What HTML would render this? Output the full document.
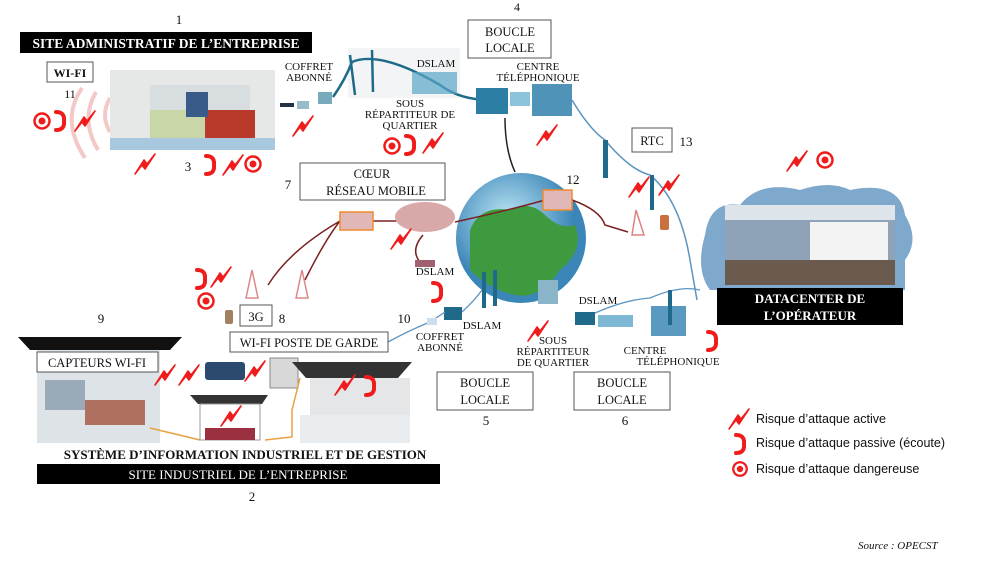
<!DOCTYPE html>
<html><head><meta charset="utf-8"><style>
body{margin:0;background:#fff}
svg{display:block}
.s{font-family:"Liberation Serif",serif}
</style></head><body>
<svg width="991" height="567" viewBox="0 0 991 567" xmlns="http://www.w3.org/2000/svg">
<defs>
<symbol id="b" viewBox="0 0 22 22"><path d="M21 1 L13 11 L10 7 L1 21 L8 12 L11 16 Z" fill="#f01c1c" stroke="#f01c1c" stroke-width="1.6" stroke-linejoin="round"/></symbol>
<symbol id="p" viewBox="0 0 12 22"><path d="M2 2 Q11 2 10 11 Q11 20 2 20" fill="none" stroke="#f01c1c" stroke-width="4" stroke-linecap="round"/></symbol>
<symbol id="t" viewBox="0 0 20 20"><circle cx="10" cy="10" r="7.5" fill="none" stroke="#f01c1c" stroke-width="2.5"/><circle cx="10" cy="10" r="3.5" fill="#f01c1c"/></symbol>
<radialGradient id="g" cx="40%" cy="35%"><stop offset="0" stop-color="#bfe6f5"/><stop offset="1" stop-color="#3b86b8"/></radialGradient>
</defs>
<g class="s" fill="#111">
<text x="179" y="24" font-size="13" text-anchor="middle">1</text>
<rect x="20" y="32" width="292" height="21" fill="#000"/>
<text x="166" y="48" font-size="13.5" font-weight="bold" fill="#fff" text-anchor="middle">SITE ADMINISTRATIF DE L’ENTREPRISE</text>
<rect x="47" y="62" width="46" height="20" fill="#fff" stroke="#555"/>
<text x="70" y="77" font-size="12" font-weight="bold" text-anchor="middle">WI-FI</text>
<text x="70" y="98" font-size="12" text-anchor="middle">11</text>
<path d="M82 88 Q60 120 85 158 M96 92 Q80 120 98 150 M110 98 Q100 115 110 132" stroke="#f5c8c8" stroke-width="4" fill="none"/>
<rect x="110" y="70" width="165" height="80" fill="#e6e8e8"/>
<rect x="150" y="85" width="100" height="40" fill="#d8dde0"/>
<rect x="150" y="110" width="55" height="30" fill="#c9d6a8"/>
<rect x="205" y="110" width="50" height="30" fill="#b83a2a"/>
<rect x="110" y="138" width="165" height="12" fill="#a8c8e0"/>
<rect x="186" y="92" width="22" height="25" fill="#3a5a8a"/>
<use href="#t" x="32" y="111" width="20" height="20"/><use href="#p" x="54" y="110" width="12" height="22"/><use href="#b" x="74" y="110" width="22" height="22"/>
<use href="#b" x="134" y="153" width="22" height="22"/>
<text x="188" y="171" font-size="13" text-anchor="middle">3</text>
<use href="#p" x="204" y="154" width="12" height="22"/><use href="#b" x="222" y="154" width="22" height="22"/><use href="#t" x="243" y="154" width="20" height="20"/>
<text x="309" y="70" font-size="11" text-anchor="middle">COFFRET</text>
<text x="309" y="81" font-size="11" text-anchor="middle">ABONNÉ</text>
<rect x="280" y="103" width="14" height="4" fill="#234"/><rect x="297" y="101" width="12" height="8" fill="#9bc"/><rect x="318" y="92" width="14" height="12" fill="#7ab"/>
<use href="#b" x="292" y="115" width="22" height="22"/>
<rect x="348" y="48" width="112" height="50" fill="#f2f4f5"/>
<path d="M350 55 L355 95 M372 50 L373 92 M333 97 Q345 80 352 62 Q380 50 440 85 Q460 100 490 100" stroke="#1f6a8a" stroke-width="2.5" fill="none"/>
<text x="436" y="67" font-size="11" text-anchor="middle">DSLAM</text>
<rect x="412" y="72" width="45" height="22" fill="#5aa6c8" opacity=".7"/>
<text x="410" y="107" font-size="11" text-anchor="middle">SOUS</text>
<text x="410" y="118" font-size="11" text-anchor="middle">RÉPARTITEUR DE</text>
<text x="410" y="129" font-size="11" text-anchor="middle">QUARTIER</text>
<use href="#t" x="382" y="136" width="20" height="20"/><use href="#p" x="404" y="134" width="12" height="22"/><use href="#b" x="422" y="132" width="22" height="22"/>
<text x="517" y="11" font-size="12" text-anchor="middle">4</text>
<rect x="468" y="20" width="83" height="38" fill="#fff" stroke="#555"/>
<text x="510" y="36" font-size="12.5" text-anchor="middle">BOUCLE</text>
<text x="510" y="52" font-size="12.5" text-anchor="middle">LOCALE</text>
<text x="538" y="70" font-size="11" text-anchor="middle">CENTRE</text>
<text x="538" y="81" font-size="11" text-anchor="middle">TÉLÉPHONIQUE</text>
<rect x="476" y="88" width="32" height="26" fill="#2d7ea4"/>
<rect x="510" y="92" width="20" height="14" fill="#8cc4dc"/>
<rect x="532" y="84" width="40" height="32" fill="#4f93b8"/>
<path d="M505 118 Q505 150 515 172" stroke="#222" stroke-width="1.5" fill="none"/>
<use href="#b" x="536" y="124" width="22" height="22"/>
<path d="M572 100 Q590 130 605 140 Q630 170 650 175 Q680 200 690 260 L697 300" stroke="#5b95c0" stroke-width="1.5" fill="none"/>
<rect x="603" y="140" width="5" height="38" fill="#1f6a8a"/>
<rect x="632" y="128" width="40" height="24" fill="#fff" stroke="#555"/>
<text x="652" y="145" font-size="12.5" text-anchor="middle">RTC</text>
<text x="686" y="146" font-size="13" text-anchor="middle">13</text>
<rect x="650" y="175" width="4" height="35" fill="#1f6a8a"/>
<use href="#b" x="628" y="176" width="22" height="22"/><use href="#b" x="658" y="174" width="22" height="22"/>
<use href="#b" x="786" y="150" width="22" height="22"/><use href="#t" x="815" y="150" width="20" height="20"/>
<path d="M705 235 Q710 200 740 205 Q760 180 800 190 Q830 180 850 190 Q900 180 905 215 Q920 240 905 260 L905 290 L710 290 Q695 270 705 235Z" fill="#7fa9cc"/>
<rect x="725" y="205" width="170" height="80" fill="#8ea3b8"/>
<rect x="725" y="205" width="170" height="15" fill="#dde4ea"/>
<rect x="810" y="222" width="78" height="38" fill="#f3f3f3"/>
<rect x="725" y="260" width="170" height="25" fill="#6b5a4e"/>
<rect x="717" y="288" width="186" height="37" fill="#000"/>
<text x="810" y="303" font-size="13" font-weight="bold" fill="#fff" text-anchor="middle">DATACENTER DE</text>
<text x="810" y="320" font-size="13" font-weight="bold" fill="#fff" text-anchor="middle">L’OPÉRATEUR</text>
<circle cx="521" cy="238" r="65" fill="url(#g)"/>
<path d="M470 230 Q480 205 510 210 Q530 200 545 215 Q560 230 575 225 Q585 250 560 270 Q540 300 515 295 Q490 290 470 270 Z" fill="#3e9a3e"/>
<text x="288" y="189" font-size="13" text-anchor="middle">7</text>
<rect x="300" y="163" width="145" height="37" fill="#fff" stroke="#555"/>
<text x="372" y="178" font-size="12.5" text-anchor="middle">CŒUR</text>
<text x="376" y="195" font-size="12.5" text-anchor="middle">RÉSEAU MOBILE</text>
<path d="M268 285 Q290 250 340 221 M305 280 Q325 240 340 221 M373 221 L400 221 M455 222 Q510 210 545 200 M572 200 Q600 210 605 225 L628 232 M423 235 Q410 250 420 262" stroke="#7a2020" stroke-width="1.5" fill="none"/>
<rect x="340" y="212" width="33" height="18" fill="#e0b8b8" stroke="#f08a30" stroke-width="1.5"/>
<ellipse cx="425" cy="217" rx="30" ry="15" fill="#d9a8a8"/>
<use href="#b" x="390" y="228" width="22" height="22"/>
<rect x="415" y="260" width="20" height="7" fill="#a06070"/>
<text x="435" y="275" font-size="11" text-anchor="middle">DSLAM</text>
<text x="573" y="184" font-size="13" text-anchor="middle">12</text>
<rect x="543" y="190" width="29" height="20" fill="#e0b8b8" stroke="#f08a30" stroke-width="1.5"/>
<path d="M636 210 L632 235 L644 235 Z" fill="none" stroke="#e08080" stroke-width="1.5"/>
<rect x="660" y="215" width="9" height="15" rx="2" fill="#c87040"/>
<use href="#p" x="431" y="281" width="12" height="22"/>
<use href="#p" x="195" y="268" width="12" height="22"/><use href="#b" x="210" y="266" width="22" height="22"/><use href="#t" x="196" y="291" width="20" height="20"/>
<path d="M252 270 L246 298 L258 298 Z M302 270 L296 298 L308 298 Z" fill="none" stroke="#d88" stroke-width="1.5"/>
<rect x="225" y="310" width="8" height="14" rx="2" fill="#a08060"/>
<rect x="240" y="305" width="32" height="21" fill="#fff" stroke="#555"/>
<text x="256" y="321" font-size="12.5" text-anchor="middle">3G</text>
<text x="282" y="323" font-size="13" text-anchor="middle">8</text>
<text x="101" y="323" font-size="13" text-anchor="middle">9</text>
<text x="404" y="323" font-size="13" text-anchor="middle">10</text>
<rect x="482" y="272" width="4" height="36" fill="#1f6a8a"/><rect x="493" y="270" width="4" height="36" fill="#1f6a8a"/>
<rect x="444" y="307" width="18" height="13" fill="#1f6a8a"/>
<rect x="538" y="280" width="20" height="24" fill="#8ab4c8"/>
<path d="M388 342 Q410 330 430 322 L445 312 M462 312 Q475 300 482 290 M580 320 Q620 300 650 298 Q680 285 700 290" stroke="#5b95c0" stroke-width="1.3" fill="none"/>
<rect x="427" y="318" width="10" height="7" fill="#cde"/>
<text x="482" y="329" font-size="11" text-anchor="middle">DSLAM</text>
<text x="440" y="340" font-size="11" text-anchor="middle">COFFRET</text>
<text x="440" y="351" font-size="11" text-anchor="middle">ABONNÉ</text>
<use href="#b" x="527" y="320" width="22" height="22"/>
<text x="553" y="344" font-size="11" text-anchor="middle">SOUS</text>
<text x="553" y="355" font-size="11" text-anchor="middle">RÉPARTITEUR</text>
<text x="553" y="366" font-size="11" text-anchor="middle">DE QUARTIER</text>
<text x="598" y="304" font-size="11" text-anchor="middle">DSLAM</text>
<rect x="575" y="312" width="20" height="13" fill="#1f6a8a"/>
<rect x="598" y="315" width="35" height="12" fill="#7fb8d4"/>
<rect x="651" y="306" width="35" height="30" fill="#5a9ac0"/>
<rect x="668" y="290" width="4" height="35" fill="#1f6a8a"/>
<text x="645" y="354" font-size="11" text-anchor="middle">CENTRE</text>
<text x="678" y="365" font-size="11" text-anchor="middle">TÉLÉPHONIQUE</text>
<use href="#p" x="706" y="330" width="12" height="22"/>
<rect x="437" y="372" width="96" height="38" fill="#fff" stroke="#555"/>
<text x="485" y="387" font-size="12.5" text-anchor="middle">BOUCLE</text>
<text x="485" y="404" font-size="12.5" text-anchor="middle">LOCALE</text>
<text x="486" y="425" font-size="13" text-anchor="middle">5</text>
<rect x="574" y="372" width="96" height="38" fill="#fff" stroke="#555"/>
<text x="622" y="387" font-size="12.5" text-anchor="middle">BOUCLE</text>
<text x="622" y="404" font-size="12.5" text-anchor="middle">LOCALE</text>
<text x="625" y="425" font-size="13" text-anchor="middle">6</text>
<use href="#b" x="728" y="408" width="22" height="22"/><use href="#p" x="734" y="433" width="12" height="22"/><use href="#t" x="731" y="460" width="18" height="18"/>
<g font-family="Liberation Sans, sans-serif" font-size="12.5">
<text x="756" y="423">Risque d’attaque active</text>
<text x="756" y="447">Risque d’attaque passive (écoute)</text>
<text x="756" y="473">Risque d’attaque dangereuse</text>
</g>
<text x="858" y="549" font-size="11" font-style="italic">Source : OPECST</text>
<path d="M18 337 L182 337 L170 350 L30 350 Z" fill="#111"/>
<rect x="37" y="350" width="123" height="93" fill="#dde3e6"/>
<rect x="45" y="380" width="40" height="30" fill="#9aaab8"/>
<rect x="85" y="400" width="60" height="25" fill="#b07060"/>
<rect x="37" y="352" width="121" height="20" fill="#fff" stroke="#555"/>
<text x="97" y="367" font-size="12.5" text-anchor="middle">CAPTEURS WI-FI</text>
<use href="#b" x="154" y="364" width="22" height="22"/><use href="#b" x="178" y="364" width="22" height="22"/>
<rect x="205" y="362" width="40" height="18" rx="3" fill="#2c4a70"/>
<use href="#b" x="244" y="360" width="22" height="22"/>
<rect x="230" y="332" width="158" height="20" fill="#fff" stroke="#555"/>
<text x="309" y="347" font-size="12.5" text-anchor="middle">WI-FI POSTE DE GARDE</text>
<rect x="270" y="358" width="28" height="30" fill="#d8d8d8" stroke="#888"/>
<path d="M292 362 L412 362 L398 378 L306 378 Z" fill="#333"/>
<rect x="310" y="378" width="100" height="65" fill="#e4e6e8"/>
<rect x="300" y="415" width="110" height="28" fill="#e8ecef"/>
<path d="M190 395 L268 395 L262 404 L198 404 Z" fill="#333"/>
<rect x="200" y="404" width="60" height="36" fill="#fff" stroke="#999"/>
<rect x="205" y="428" width="50" height="12" fill="#9a3040"/>
<path d="M150 428 L200 440 M292 410 L292 437 L265 440 M300 378 L292 410" stroke="#e8a040" stroke-width="1.5" fill="none"/>
<use href="#b" x="220" y="405" width="22" height="22"/><use href="#b" x="334" y="374" width="22" height="22"/><use href="#p" x="364" y="375" width="12" height="22"/>
<text x="245" y="459" font-size="13" font-weight="bold" text-anchor="middle">SYSTÈME D’INFORMATION INDUSTRIEL ET DE GESTION</text>
<rect x="37" y="464" width="403" height="20" fill="#000"/>
<text x="238" y="479" font-size="13" fill="#fff" text-anchor="middle">SITE INDUSTRIEL DE L’ENTREPRISE</text>
<text x="252" y="501" font-size="13" text-anchor="middle">2</text>
</g>
</svg>
</body></html>
